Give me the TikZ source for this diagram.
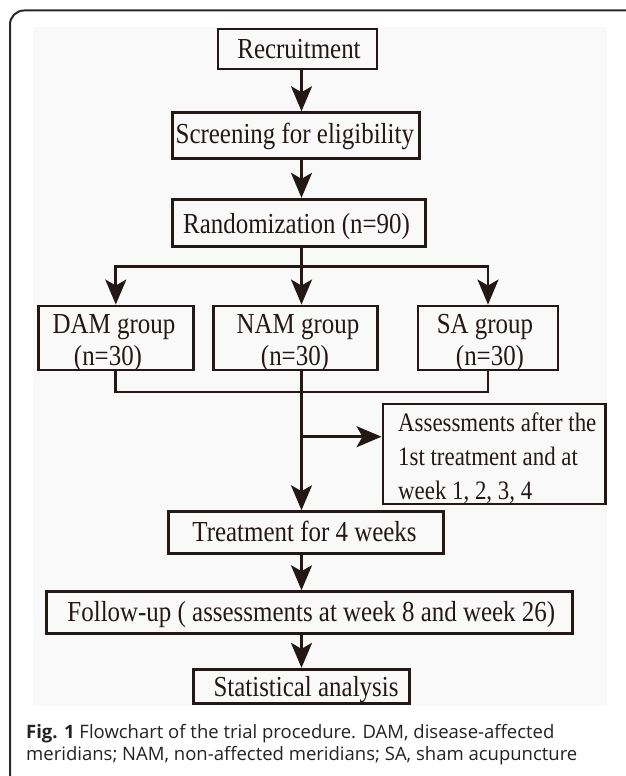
\documentclass[tikz,border=0pt]{standalone}
\usepackage{fontspec}
\setmainfont{Liberation Serif}[FakeStretch=0.86]
\newfontfamily\capfont{Open Sans}
\usetikzlibrary{arrows.meta}
\definecolor{ink}{RGB}{35,24,21}
\definecolor{framecol}{RGB}{40,40,40}
\definecolor{captxt}{RGB}{35,35,35}
\definecolor{panel}{RGB}{249,249,249}
\newcommand{\mainfs}{\fontsize{29}{32}\selectfont}
\newcommand{\assfs}{\fontsize{26.6}{34}\selectfont}
\newcommand{\capfs}{\capfont\fontsize{18.5}{22.4}\selectfont}
\begin{document}
\begin{tikzpicture}[x=1pt,y=-1pt,
  box/.style={draw=ink, line width=2.9pt, inner sep=0pt},
  lbl/.style={anchor=base, inner sep=0pt, font=\mainfs, text=ink},
  albl/.style={anchor=base west, inner sep=0pt, font=\assfs, text=ink},
  clbl/.style={anchor=base west, inner sep=0pt, font=\capfs, text=captxt},
  link/.style={draw=ink, line width=2.8pt},
  arr/.style={link, -{Stealth[length=25pt, width=21pt, inset=6pt]}}]
\useasboundingbox (0,0) rectangle (625,776);
\fill[white] (0,0) rectangle (625,776);
\fill[panel] (33,27) rectangle (607,706);
\draw[framecol, line width=2pt, rounded corners=14pt] (10,790) -- (10,10.5) -- (640,10.5);

\coordinate (cx) at (301.5,0);

% boxes
\node[box, minimum width=159pt, minimum height=40pt] (rec) at (297.5,49) {};
\node[lbl] (recT) at (299,58.3) {Recruitment};
\node[box, minimum width=247pt, minimum height=45.6pt] (scr) at (296.2,135.5) {};
\node[lbl] (scrT) at (294.8,143) {Screening for eligibility};
\node[box, minimum width=252.3pt, minimum height=47.4pt] (rnd) at (298.9,223) {};
\node[lbl] (rndT) at (296.5,233.3) {Randomization (n=90)};

\node[box, minimum width=155pt, minimum height=64pt] (dam) at (115.8,338) {};
\node[lbl] (damT1) at (114,333) {DAM group};
\node[lbl] (damT2) at (108,365) {(n=30)};
\node[box, minimum width=163.7pt, minimum height=64pt] (nam) at (295.2,338) {};
\node[lbl] (namT1) at (298,333) {NAM group};
\node[lbl] (namT2) at (295,365) {(n=30)};
\node[box, minimum width=140pt, minimum height=64pt] (sa) at (488,338) {};
\node[lbl] (saT1) at (485,333) {SA group};
\node[lbl] (saT2) at (490,365) {(n=30)};

\node[box, minimum width=222.7pt, minimum height=100pt] (ass) at (494.3,454) {};
\node[albl] (assT1) at (398,431) {Assessments after the};
\node[albl] (assT2) at (398,465.5) {1st treatment and at};
\node[albl] (assT3) at (398,499.5) {week 1, 2, 3, 4};

\node[box, minimum width=274.7pt, minimum height=41.6pt] (trt) at (305.7,532.5) {};
\node[lbl] (trtT) at (304.5,541.7) {Treatment for 4 weeks};
\node[box, minimum width=525.6pt, minimum height=41.6pt] (fu) at (309.5,612.5) {};
\node[lbl] (fuT) at (311.3,621.7) {Follow-up ( assessments at week 8 and week 26)};
\node[box, minimum width=216.4pt, minimum height=34pt] (stat) at (301.5,686.3) {};
\node[lbl] (statT) at (306,696) {Statistical analysis};

% connectors
\draw[arr] (rec.south -| cx) -- (scr.north -| cx);
\draw[arr] (scr.south -| cx) -- (rnd.north -| cx);
\coordinate (br) at (301.5,266.7);
\draw[link] (rnd.south -| cx) -- (br);
\draw[arr] (br) -| (dam.north);
\draw[arr] (br) -| (sa.north);
\draw[arr] (br) -- (nam.north -| cx);
\coordinate (mg) at (301.5,392);
\draw[link] (dam.south) |- (mg);
\draw[link] (sa.south) |- (mg);
\draw[link] (nam.south -| cx) -- (mg);
\draw[arr] (mg) -- (trt.north -| cx);
\coordinate (sj) at (301.5,436.7);
\draw[arr] (sj) -- (sj -| ass.west);
\draw[arr] (trt.south -| cx) -- (fu.north -| cx);
\draw[arr] (fu.south -| cx) -- (stat.north -| cx);

% caption
\node[clbl] (cap1) at (26,738.3) {\textbf{Fig. 1} Flowchart of the trial procedure. DAM, disease-affected};
\node[clbl] (cap2) at (26,760.5) {meridians; NAM, non-affected meridians; SA, sham acupuncture};
\end{tikzpicture}
\end{document}
